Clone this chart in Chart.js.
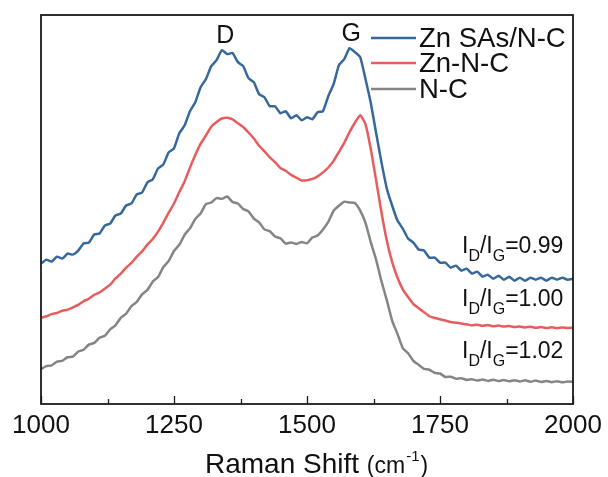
<!DOCTYPE html>
<html>
<head>
<meta charset="utf-8">
<script src="https://cdn.jsdelivr.net/npm/chart.js@4/dist/chart.umd.min.js"></script>
<style>
html,body{margin:0;padding:0;background:#fff;}
#wrap{width:608px;height:477px;}
</style>
</head>
<body>
<div id="wrap"><canvas id="c" width="608" height="477"></canvas></div>
<script>
// Raman shift (cm^-1)
const ramanShift = [1000,1010,1020,1030,1040,1050,1060,1070,1080,1090,
  1100,1110,1120,1130,1140,1150,1160,1170,1180,1190,
  1200,1210,1220,1230,1240,1250,1260,1270,1280,1290,
  1300,1310,1320,1330,1340,1350,1360,1370,1380,1390,
  1400,1410,1420,1430,1440,1450,1460,1470,1480,1490,
  1500,1510,1520,1530,1540,1550,1560,1570,1580,1590,
  1600,1610,1620,1630,1640,1650,1660,1670,1680,1690,
  1700,1710,1720,1730,1740,1750,1760,1770,1780,1790,
  1800,1810,1820,1830,1840,1850,1860,1870,1880,1890,
  1900,1910,1920,1930,1940,1950,1960,1970,1980,1990,
  2000];

// Intensities (a.u., vertically offset as in the figure)
const znSAsNC = [140,144,142,147,145,150,149,153,160,161,
  169,170,178,180,188,190,198,200,209,211,
  221,224,235,239,251,255,270,278,292,301,
  316,324,337,343,353,349,350,341,337,325,
  321,309,306,297,297,290,292,285,288,283,
  286,284,291,292,307,319,338,344,355,351,
  346,324,300,270,241,215,198,183,175,165,
  161,154,153,146,146,141,141,136,138,133,
  135,130,132,127,129,125,128,124,127,123,
  126,123,126,124,126,123,126,124,126,124,
  125];

const znNC = [86,87.5,89.6,90.8,93,94,96.4,98.8,102.5,105,
  108.8,111.3,115,119,125.2,130,136,140.8,147,152.2,
  159,164.6,172,181,190.8,200,211.4,222,235.8,248.4,
  259.4,267.8,276.6,281.3,284.8,285.5,283.8,280.1,276.3,270.8,
  264.8,257.6,251.9,246,241.2,235.4,232.6,228.5,225.7,223,
  223.1,224.5,227.1,231,235.9,242.5,251.5,260.5,271.2,280.5,
  288,279,254,222.8,191,163,141.7,126.2,114.4,106.7,
  99.7,95.6,91.6,87.5,85.8,84.5,83.2,81.8,81.1,80.3,
  79.5,78.4,79.1,78.0,78.7,77.5,78.2,77.2,77.9,76.8,
  77.4,76.3,77.1,76,76.8,75.7,76.5,75.6,76.4,75.8,
  76];

const nC = [35,37.8,38.6,42.3,43,46.6,47.2,52.3,54.1,59.2,
  61,66.1,68,74.4,78.5,86,90,97.6,101.8,109.4,
  113.8,122,126.6,136.6,142.6,152.6,158.8,168.8,175.2,184.6,
  190,199.4,201,205.4,204.6,207,201.6,200,194.6,192.2,
  185,181.2,174.2,172.4,167,165.3,160,161.2,159.6,161.6,
  160.2,166,168,174,181.6,192.8,197.8,201.8,201,200.4,
  192.8,180.6,161.3,143.8,122.3,103.6,83.2,69.9,55.8,50.6,
  43,39,35,34.2,31,30.4,27,27.2,25.2,25.8,
  24,24.7,23.4,24.5,23,24.2,22.9,24,22.6,23.8,
  22.5,23.6,22.3,23.4,22,23,21.8,22.8,21.6,22.5,
  22];

const seriesNames = ['Zn SAs/N-C','Zn-N-C','N-C'];
const seriesColors = ['#36689c','#e85c5d','#858585'];
const xMajorTicks = [1000,1250,1500,1750,2000];
const xMinorTicks = [1125,1375,1625,1875];
const ratioLabels = ['0.99','1.00','1.02'];
const peakLabels = [{text:'D', x:1350}, {text:'G', x:1583}];

function pts(ys){ return ys.map((y,i)=>({x:ramanShift[i], y:y})); }

const FONT = '"Liberation Sans", Arial, sans-serif';

const decor = {
  id:'decor',
  afterDraw(chart){
    const ctx = chart.ctx, a = chart.chartArea, xs = chart.scales.x;
    ctx.save();
    // frame
    ctx.strokeStyle = '#1a1a1a';
    ctx.lineWidth = 1.8;
    ctx.strokeRect(a.left, a.top, a.right - a.left, a.bottom - a.top);
    // ticks (inward from bottom axis)
    ctx.lineWidth = 1.3;
    ctx.beginPath();
    xMajorTicks.forEach(v=>{ const px = Math.round(xs.getPixelForValue(v))+0.5; ctx.moveTo(px,a.bottom); ctx.lineTo(px,a.bottom-8); });
    xMinorTicks.forEach(v=>{ const px = Math.round(xs.getPixelForValue(v))+0.5; ctx.moveTo(px,a.bottom); ctx.lineTo(px,a.bottom-5); });
    ctx.stroke();
    // tick labels
    ctx.fillStyle = '#111';
    ctx.font = '26px ' + FONT;
    ctx.textAlign = 'center';
    ctx.textBaseline = 'alphabetic';
    xMajorTicks.forEach(v=>{ ctx.fillText(String(v), xs.getPixelForValue(v), a.bottom + 29); });
    // axis title
    ctx.textAlign = 'left';
    let tx = 205; const ty = 473;
    ctx.font = '28px ' + FONT; ctx.fillText('Raman Shift ', tx, ty); tx += ctx.measureText('Raman Shift ').width;
    ctx.font = '23px ' + FONT; ctx.fillText('(cm', tx, ty); tx += ctx.measureText('(cm').width + 1;
    ctx.font = '15px ' + FONT; ctx.fillText('-1', tx, ty - 12); tx += ctx.measureText('-1').width + 1;
    ctx.font = '23px ' + FONT; ctx.fillText(')', tx, ty);
    // peak labels
    ctx.font = '25px ' + FONT;
    ctx.textAlign = 'center';
    ctx.fillText(peakLabels[0].text, xs.getPixelForValue(peakLabels[0].x) - 2, 43);
    ctx.fillText(peakLabels[1].text, xs.getPixelForValue(peakLabels[1].x), 41);
    // legend
    const legY = [38, 63, 89];
    ctx.textAlign = 'left';
    ctx.textBaseline = 'middle';
    ctx.font = '27.5px ' + FONT;
    seriesNames.forEach((n,i)=>{
      ctx.strokeStyle = seriesColors[i];
      ctx.lineWidth = 2.5;
      ctx.beginPath(); ctx.moveTo(371, legY[i]); ctx.lineTo(416, legY[i]); ctx.stroke();
      ctx.fillStyle = '#111';
      ctx.fillText(n, 419, legY[i] + 1);
    });
    // ratio labels
    ctx.textBaseline = 'alphabetic';
    const base = [253, 306, 358];
    ratioLabels.forEach((r,i)=>{
      let x = 462; const y = base[i];
      ctx.font = '23px ' + FONT; ctx.fillText('I', x, y); x += ctx.measureText('I').width;
      ctx.font = '16px ' + FONT; ctx.fillText('D', x, y + 8); x += ctx.measureText('D').width;
      ctx.font = '23px ' + FONT; ctx.fillText('/I', x, y); x += ctx.measureText('/I').width;
      ctx.font = '16px ' + FONT; ctx.fillText('G', x, y + 8); x += ctx.measureText('G').width;
      ctx.font = '23px ' + FONT; ctx.fillText('=' + r, x, y);
    });
    ctx.restore();
  }
};

new Chart(document.getElementById('c'), {
  type:'line',
  data:{
    datasets:[
      {label:seriesNames[0], data:pts(znSAsNC), borderColor:seriesColors[0], borderWidth:2.5, pointRadius:0, tension:0.15, fill:false},
      {label:seriesNames[1], data:pts(znNC), borderColor:seriesColors[1], borderWidth:2.5, pointRadius:0, tension:0.15, fill:false},
      {label:seriesNames[2], data:pts(nC), borderColor:seriesColors[2], borderWidth:2.5, pointRadius:0, tension:0.15, fill:false}
    ]
  },
  options:{
    responsive:false,
    animation:false,
    layout:{padding:{left:41, right:35, top:15, bottom:73}},
    plugins:{legend:{display:false}, tooltip:{enabled:false}},
    scales:{
      x:{type:'linear', min:1000, max:2000, display:false},
      y:{min:0, max:388, display:false}
    }
  },
  plugins:[decor]
});
</script>
</body>
</html>
